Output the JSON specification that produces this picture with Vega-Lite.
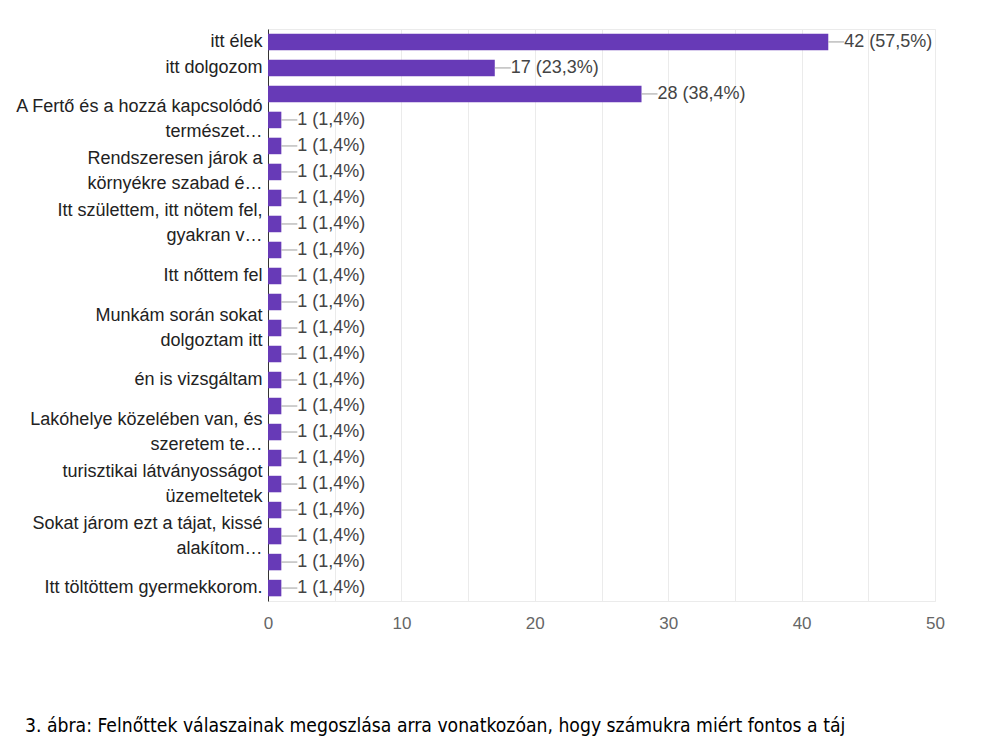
{
  "$schema": "https://vega.github.io/schema/vega-lite/v6.json",
  "width": 667,
  "height": 572,
  "autosize": {"type": "none"},
  "padding": {"left": 268, "top": 29, "right": 65, "bottom": 151},
  "background": "white",
  "config": {"view": {"stroke": "#ebebeb"}, "font": "Liberation Sans"},
  "title": {
    "text": "3. ábra: Felnőttek válaszainak megoszlása arra vonatkozóan, hogy számukra miért fontos a táj",
    "orient": "bottom",
    "anchor": "start",
    "frame": "group",
    "dx": -243,
    "offset": 86,
    "baseline": "top",
    "font": "'Liberation Sans Narrow', 'DejaVu Sans Condensed', 'Roboto Condensed', sans-serif",
    "fontSize": 19.2,
    "fontWeight": "normal",
    "color": "#000000"
  },
  "data": {
    "values": [
      {"sorrend": 1, "kategoria": "itt élek", "db": 42, "felirat": "42 (57,5%)"},
      {"sorrend": 2, "kategoria": "itt dolgozom", "db": 17, "felirat": "17 (23,3%)"},
      {"sorrend": 3, "kategoria": "#3", "db": 28, "felirat": "28 (38,4%)"},
      {"sorrend": 4, "kategoria": "A Fertő és a hozzá kapcsolódó\ntermészet…", "db": 1, "felirat": "1 (1,4%)"},
      {"sorrend": 5, "kategoria": "#5", "db": 1, "felirat": "1 (1,4%)"},
      {"sorrend": 6, "kategoria": "Rendszeresen járok a\nkörnyékre szabad é…", "db": 1, "felirat": "1 (1,4%)"},
      {"sorrend": 7, "kategoria": "#7", "db": 1, "felirat": "1 (1,4%)"},
      {"sorrend": 8, "kategoria": "Itt születtem, itt nötem fel,\ngyakran v…", "db": 1, "felirat": "1 (1,4%)"},
      {"sorrend": 9, "kategoria": "#9", "db": 1, "felirat": "1 (1,4%)"},
      {"sorrend": 10, "kategoria": "Itt nőttem fel", "db": 1, "felirat": "1 (1,4%)"},
      {"sorrend": 11, "kategoria": "#11", "db": 1, "felirat": "1 (1,4%)"},
      {"sorrend": 12, "kategoria": "Munkám során sokat\ndolgoztam itt", "db": 1, "felirat": "1 (1,4%)"},
      {"sorrend": 13, "kategoria": "#13", "db": 1, "felirat": "1 (1,4%)"},
      {"sorrend": 14, "kategoria": "én is vizsgáltam", "db": 1, "felirat": "1 (1,4%)"},
      {"sorrend": 15, "kategoria": "#15", "db": 1, "felirat": "1 (1,4%)"},
      {"sorrend": 16, "kategoria": "Lakóhelye közelében van, és\nszeretem te…", "db": 1, "felirat": "1 (1,4%)"},
      {"sorrend": 17, "kategoria": "#17", "db": 1, "felirat": "1 (1,4%)"},
      {"sorrend": 18, "kategoria": "turisztikai látványosságot\nüzemeltetek", "db": 1, "felirat": "1 (1,4%)"},
      {"sorrend": 19, "kategoria": "#19", "db": 1, "felirat": "1 (1,4%)"},
      {"sorrend": 20, "kategoria": "Sokat járom ezt a tájat, kissé\nalakítom…", "db": 1, "felirat": "1 (1,4%)"},
      {"sorrend": 21, "kategoria": "#21", "db": 1, "felirat": "1 (1,4%)"},
      {"sorrend": 22, "kategoria": "Itt töltöttem gyermekkorom.", "db": 1, "felirat": "1 (1,4%)"}
    ]
  },
  "encoding": {
    "y": {
      "field": "kategoria",
      "type": "nominal",
      "sort": {"field": "sorrend", "op": "min", "order": "ascending"},
      "scale": {"paddingInner": 0.365, "paddingOuter": 0.18},
      "axis": {
        "title": null,
        "ticks": false,
        "domainColor": "#333333",
        "domainWidth": 1,
        "labelFontSize": 18,
        "labelColor": "#222222",
        "labelPadding": 6,
        "labelLineHeight": 25,
        "labelLimit": 400,
        "labelOverlap": false,
        "labelOffset": {"condition": {"test": "indexof(datum.label, '\\n') >= 0", "value": -12.5}, "value": 0},
        "labelExpr": "indexof(datum.label, '#') === 0 ? '' : split(datum.label, '\\n')"
      }
    }
  },
  "layer": [
    {
      "mark": {"type": "bar", "color": "#673ab7"},
      "encoding": {
        "x": {
          "field": "db",
          "type": "quantitative",
          "scale": {"domain": [0, 50], "nice": false},
          "axis": {
            "title": null,
            "values": [0, 5, 10, 15, 20, 25, 30, 35, 40, 45, 50],
            "labelExpr": "datum.value % 10 === 0 ? datum.label : ''",
            "labelFlush": false,
            "ticks": false,
            "domain": false,
            "grid": true,
            "gridColor": "#ebebeb",
            "labelFontSize": 17,
            "labelColor": "#666666",
            "labelPadding": 14
          }
        }
      }
    },
    {
      "mark": {"type": "rule", "color": "#9e9e9e", "strokeWidth": 1, "x2Offset": 16},
      "encoding": {
        "x": {"field": "db", "type": "quantitative"},
        "x2": {"field": "db"}
      }
    },
    {
      "mark": {"type": "text", "align": "left", "baseline": "middle", "dx": 16, "fontSize": 18, "color": "#444444"},
      "encoding": {
        "x": {"field": "db", "type": "quantitative"},
        "text": {"field": "felirat"}
      }
    }
  ]
}
